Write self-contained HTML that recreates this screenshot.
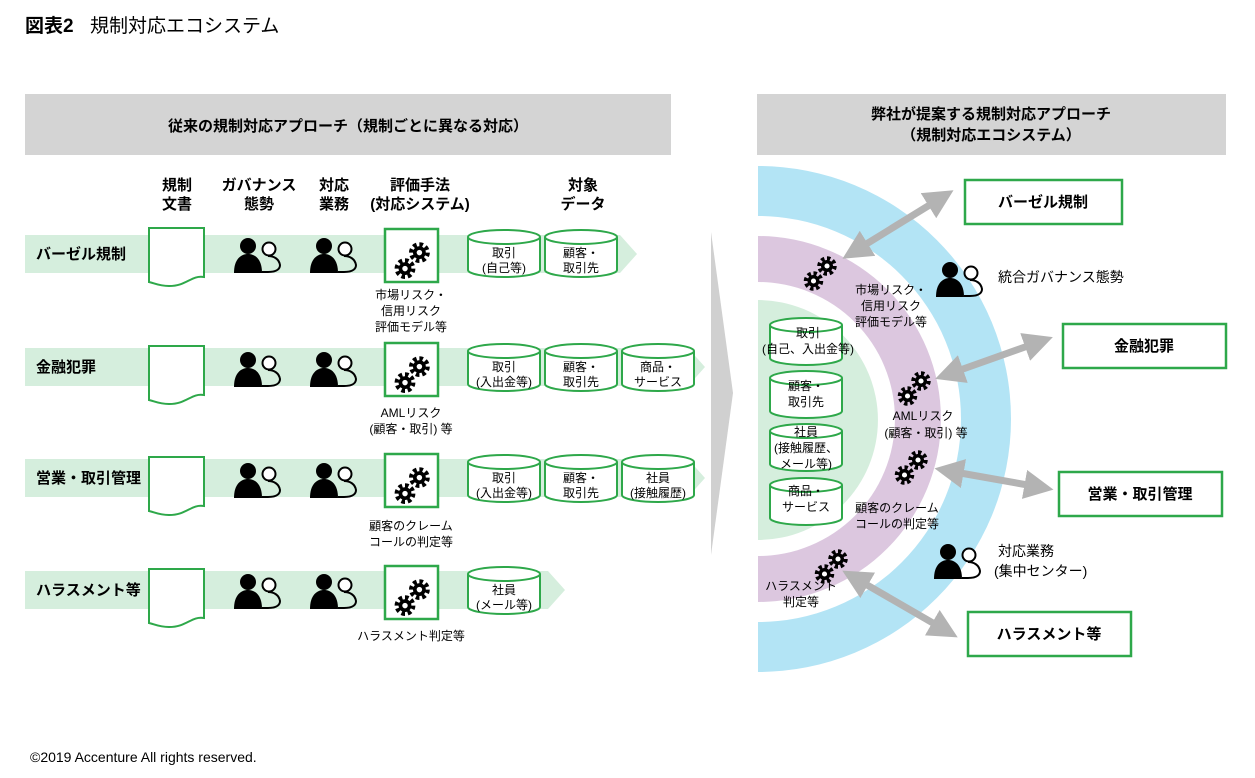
<!DOCTYPE html>
<html><head><meta charset="utf-8"><style>
body{margin:0;background:#fff}
svg{display:block;font-family:"Liberation Sans","Noto Sans CJK JP",sans-serif}
.b{font-weight:bold}
</style></head><body>
<svg width="1255" height="778" viewBox="0 0 1255 778" xmlns="http://www.w3.org/2000/svg">
<defs>
<g id="ppl">
 <circle cx="14" cy="11" r="8" fill="#000"/>
 <path d="M0 38 C0 24 7 19 14 19 C21 19 28 24 28 38 Z" fill="#000"/>
 <circle cx="35" cy="14" r="6.5" fill="#fff" stroke="#000" stroke-width="2"/>
 <path d="M28 37 L34 37 C44 37 46 33 46 30 C45 24 40 21 34 21" fill="none" stroke="#000" stroke-width="2"/>
</g>
<g id="g1">
 <circle cx="0" cy="0" r="5" fill="none" stroke="#000" stroke-width="3" stroke-dasharray="2.2 1.7"/>
 <circle cx="0" cy="0" r="4" fill="#000"/><circle cx="0" cy="0" r="1.7" fill="#fff"/>
</g>
<g id="gear">
 <use href="#g1" x="14" y="6"/><use href="#g1" x="5" y="16"/>
</g>
<g id="cyl">
 <path d="M0 7 A36 7 0 0 1 72 7 V40 A36 7 0 0 1 0 40 Z" fill="#fff" stroke="#2ea84a" stroke-width="2"/>
 <path d="M0 7 A36 7 0 0 0 72 7" fill="none" stroke="#2ea84a" stroke-width="2"/>
</g>
<g id="doc">
 <path d="M0 0 H55 V49 C42 47 38 58 20 58 C10 58 5 55 0 54 Z" fill="#fff" stroke="#2ea84a" stroke-width="2"/>
</g>
<marker id="ah" viewBox="0 0 10 10" refX="5" refY="5" markerWidth="4.2" markerHeight="4.2" orient="auto-start-reverse"><path d="M0 0 L10 5 L0 10 Z" fill="#b3b3b3"/></marker>
</defs>

<text x="25" y="32" font-size="19" class="b">図表2</text><text x="90" y="32" font-size="19">規制対応エコシステム</text>

<rect x="25" y="94" width="646" height="61" fill="#d4d4d4"/>
<text x="348" y="131" font-size="15" class="b" text-anchor="middle">従来の規制対応アプローチ（規制ごとに異なる対応）</text>
<rect x="757" y="94" width="469" height="61" fill="#d4d4d4"/>
<text x="991" y="119" font-size="15" class="b" text-anchor="middle">弊社が提案する規制対応アプローチ</text>
<text x="991" y="140" font-size="15" class="b" text-anchor="middle">（規制対応エコシステム）</text>

<g font-size="15" class="b" text-anchor="middle">
<text x="177" y="190">規制</text><text x="177" y="209">文書</text>
<text x="259" y="190">ガバナンス</text><text x="259" y="209">態勢</text>
<text x="334" y="190">対応</text><text x="334" y="209">業務</text>
<text x="420" y="190">評価手法</text><text x="420" y="209">(対応システム)</text>
<text x="583" y="190">対象</text><text x="583" y="209">データ</text>
</g>

<g fill="#d5eedd">
<path d="M25 235 H620 L637 254 L620 273 H25 Z"/>
<path d="M25 348 H688 L705 367 L688 386 H25 Z"/>
<path d="M25 459 H688 L705 478 L688 497 H25 Z"/>
<path d="M25 571 H548 L565 590 L548 609 H25 Z"/>
</g>
<g font-size="15" class="b">
<text x="36" y="259">バーゼル規制</text>
<text x="36" y="372">金融犯罪</text>
<text x="36" y="483">営業・取引管理</text>
<text x="36" y="595">ハラスメント等</text>
</g>

<g>
<use href="#doc" x="149" y="228"/><use href="#doc" x="149" y="346"/><use href="#doc" x="149" y="457"/><use href="#doc" x="149" y="569"/>
<use href="#ppl" x="234" y="235"/><use href="#ppl" x="310" y="235"/>
<use href="#ppl" x="234" y="349"/><use href="#ppl" x="310" y="349"/>
<use href="#ppl" x="234" y="460"/><use href="#ppl" x="310" y="460"/>
<use href="#ppl" x="234" y="571"/><use href="#ppl" x="310" y="571"/>
<g fill="#fff" stroke="#2ea84a" stroke-width="2.5">
<rect x="385" y="229" width="53" height="53"/><rect x="385" y="343" width="53" height="53"/>
<rect x="385" y="454" width="53" height="53"/><rect x="385" y="566" width="53" height="53"/>
</g>
<use href="#gear" transform="translate(397,243) scale(1.6)"/><use href="#gear" transform="translate(397,357) scale(1.6)"/>
<use href="#gear" transform="translate(397,468) scale(1.6)"/><use href="#gear" transform="translate(397,580) scale(1.6)"/>
</g>
<g font-size="12" text-anchor="middle">
<text x="411" y="299">市場リスク・</text><text x="411" y="315">信用リスク</text><text x="411" y="331">評価モデル等</text>
<text x="411" y="417">AMLリスク</text><text x="411" y="433">(顧客・取引) 等</text>
<text x="411" y="530">顧客のクレーム</text><text x="411" y="546">コールの判定等</text>
<text x="411" y="640">ハラスメント判定等</text>
</g>
<g>
<use href="#cyl" x="468" y="230"/><use href="#cyl" x="545" y="230"/>
<use href="#cyl" x="468" y="344"/><use href="#cyl" x="545" y="344"/><use href="#cyl" x="622" y="344"/>
<use href="#cyl" x="468" y="455"/><use href="#cyl" x="545" y="455"/><use href="#cyl" x="622" y="455"/>
<use href="#cyl" x="468" y="567"/>
</g>
<g font-size="12" text-anchor="middle">
<text x="504" y="257">取引</text><text x="504" y="272">(自己等)</text>
<text x="581" y="257">顧客・</text><text x="581" y="272">取引先</text>
<text x="504" y="371">取引</text><text x="504" y="386">(入出金等)</text>
<text x="581" y="371">顧客・</text><text x="581" y="386">取引先</text>
<text x="658" y="371">商品・</text><text x="658" y="386">サービス</text>
<text x="504" y="482">取引</text><text x="504" y="497">(入出金等)</text>
<text x="581" y="482">顧客・</text><text x="581" y="497">取引先</text>
<text x="658" y="482">社員</text><text x="658" y="497">(接触履歴)</text>
<text x="504" y="594">社員</text><text x="504" y="609">(メール等)</text>
</g>

<polygon points="711,232 733,393 711,555" fill="#d0d0d0"/>

<path d="M758 166 A253 253 0 0 1 758 672 Z" fill="#b3e4f5"/>
<path d="M758 216 A203 203 0 0 1 758 622 Z" fill="#fff"/>
<path d="M758 236 A183 183 0 0 1 758 602 Z" fill="#dcc7df"/>
<path d="M758 282 A137 137 0 0 1 758 556 Z" fill="#fff"/>
<path d="M758 300 A120 120 0 0 1 758 540 Z" fill="#d5eedd"/>

<g>
<use href="#cyl" x="770" y="318"/><use href="#cyl" x="770" y="371"/><use href="#cyl" x="770" y="424"/><use href="#cyl" x="770" y="478"/>
</g>
<g font-size="12" text-anchor="middle">
<text x="808" y="337">取引</text><text x="808" y="353">(自己、入出金等)</text>
<text x="806" y="390">顧客・</text><text x="806" y="406">取引先</text>
<text x="806" y="436">社員</text><text x="806" y="452">(接触履歴、</text><text x="806" y="468">メール等)</text>
<text x="806" y="495">商品・</text><text x="806" y="511">サービス</text>
<text x="891" y="294">市場リスク・</text><text x="891" y="310">信用リスク</text><text x="891" y="326">評価モデル等</text>
<text x="923" y="420">AMLリスク</text><text x="926" y="437">(顧客・取引) 等</text>
<text x="897" y="512">顧客のクレーム</text><text x="897" y="528">コールの判定等</text>
<text x="801" y="590">ハラスメント</text><text x="801" y="606">判定等</text>
</g>
<use href="#gear" transform="translate(806,257) scale(1.5)"/><use href="#gear" transform="translate(900,372) scale(1.5)"/>
<use href="#gear" transform="translate(897,451) scale(1.5)"/><use href="#gear" transform="translate(817,550) scale(1.5)"/>

<use href="#ppl" x="936" y="259"/><use href="#ppl" x="934" y="541"/>
<g font-size="14">
<text x="998" y="282">統合ガバナンス態勢</text>
<text x="998" y="556">対応業務</text><text x="994" y="576">(集中センター)</text>
</g>

<g stroke="#b3b3b3" stroke-width="7" marker-start="url(#ah)" marker-end="url(#ah)">
<line x1="855" y1="251" x2="941" y2="198"/>
<line x1="949" y1="374" x2="1039" y2="342"/>
<line x1="949" y1="471" x2="1039" y2="487"/>
<line x1="855" y1="578" x2="945" y2="630"/>
</g>

<g fill="#fff" stroke="#2ea84a" stroke-width="2.5">
<rect x="965" y="180" width="157" height="44"/>
<rect x="1063" y="324" width="163" height="44"/>
<rect x="1059" y="472" width="163" height="44"/>
<rect x="968" y="612" width="163" height="44"/>
</g>
<g font-size="15" class="b" text-anchor="middle">
<text x="1043" y="207">バーゼル規制</text>
<text x="1144" y="351">金融犯罪</text>
<text x="1140" y="499">営業・取引管理</text>
<text x="1049" y="639">ハラスメント等</text>
</g>

<text x="30" y="762" font-size="14">©2019 Accenture All rights reserved.</text>
</svg>
</body></html>
